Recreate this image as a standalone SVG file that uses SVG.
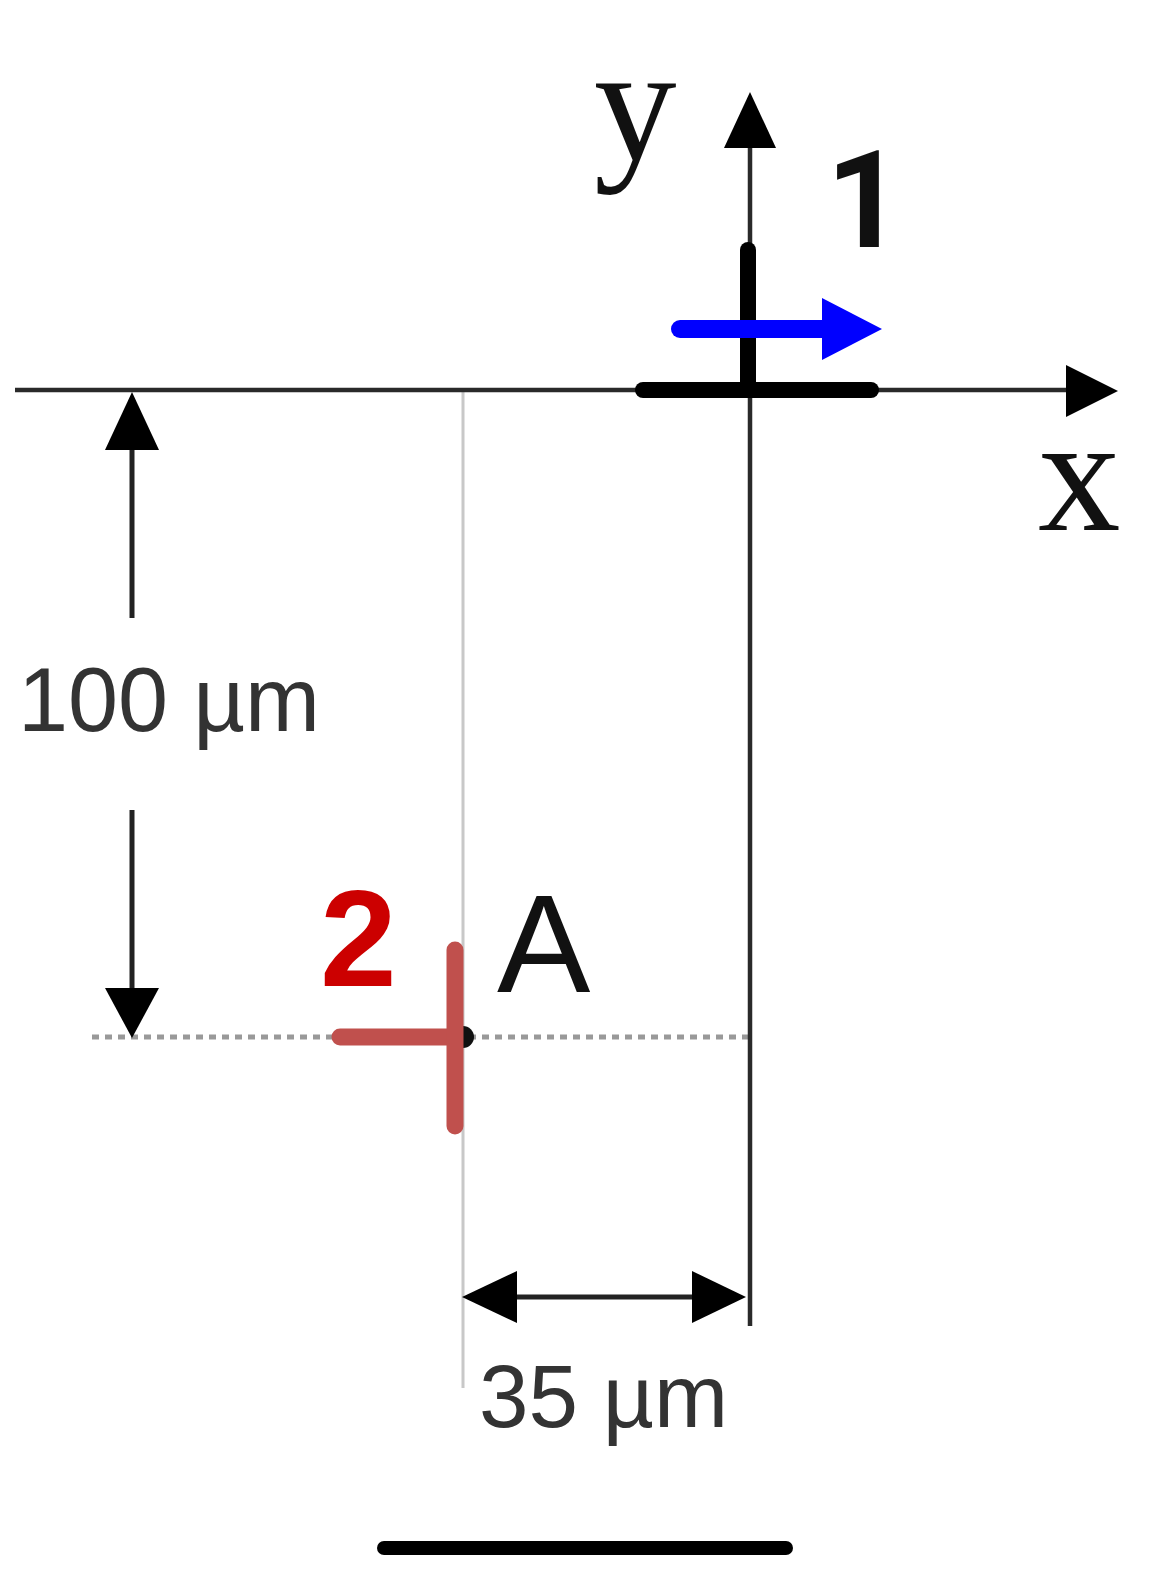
<svg xmlns="http://www.w3.org/2000/svg" width="1170" height="1580" viewBox="0 0 1170 1580">
<style>
.axis{stroke:#2a2a2a;stroke-width:4.5;fill:none}
.thick{stroke:#000;stroke-width:16;fill:none;stroke-linecap:round}
.dim{stroke:#222;stroke-width:5;fill:none}
.head{fill:#000}
.sans{font-family:"Liberation Sans",Arial,sans-serif}
.serif{font-family:"Liberation Serif","Times New Roman",serif}
</style>
<rect width="1170" height="1580" fill="#fff"/>
<g id="guides">
<line x1="463" y1="392" x2="463" y2="1388" stroke="#c8c8c8" stroke-width="3"/>
<line x1="92" y1="1037" x2="748" y2="1037" stroke="#999" stroke-width="5" stroke-dasharray="7 6"/>
</g>
<g id="connectors">
<line class="axis" x1="15" y1="390" x2="1072" y2="390"/>
<polygon class="head" points="1118,391 1066,365 1066,417"/>
<line class="axis" x1="750" y1="140" x2="750" y2="1326"/>
<polygon class="head" points="750,92 724,148 776,148"/>
<line class="dim" x1="132" y1="440" x2="132" y2="618"/>
<polygon class="head" points="132,392 105,450 159,450"/>
<line class="dim" x1="132" y1="810" x2="132" y2="995"/>
<polygon class="head" points="132,1038 105,988 159,988"/>
<line class="dim" x1="505" y1="1297" x2="705" y2="1297"/>
<polygon class="head" points="462,1297 517,1271 517,1323"/>
<polygon class="head" points="746,1297 692,1271 692,1323"/>
</g>
<g id="node1">
<line class="thick" x1="748" y1="250" x2="748" y2="390"/>
<line class="thick" x1="643" y1="390" x2="871" y2="390"/>
<line x1="680" y1="329" x2="830" y2="329" stroke="#0000ff" stroke-width="18" stroke-linecap="round"/>
<polygon points="882,329 822,298 822,360" fill="#0000ff"/>
<text x="826" y="247" font-size="135" font-weight="bold" fill="#111" font-family="Roboto,'Liberation Sans',sans-serif">1</text>
</g>
<g id="node2">
<line x1="340" y1="1037" x2="455" y2="1037" stroke="#c0504d" stroke-width="17" stroke-linecap="round"/>
<circle cx="463" cy="1037" r="11" fill="#111"/>
<line x1="455" y1="950" x2="455" y2="1126" stroke="#c0504d" stroke-width="17" stroke-linecap="round"/>
<text class="sans" x="320" y="986" font-size="138" font-weight="bold" fill="#cc0000">2</text>
</g>
<g id="labels">
<text class="serif" x="594" y="160" font-size="165" fill="#111">y</text>
<text class="serif" x="1038" y="530" font-size="165" fill="#111">x</text>
<text class="sans" x="497" y="992" font-size="140" fill="#111">A</text>
<text class="sans" x="18" y="731" font-size="90" fill="#333">100 µm</text>
<text class="sans" x="479" y="1427" font-size="89" fill="#333">35 µm</text>
</g>
<rect x="377" y="1541" width="416" height="14" rx="7" fill="#000"/>
</svg>
